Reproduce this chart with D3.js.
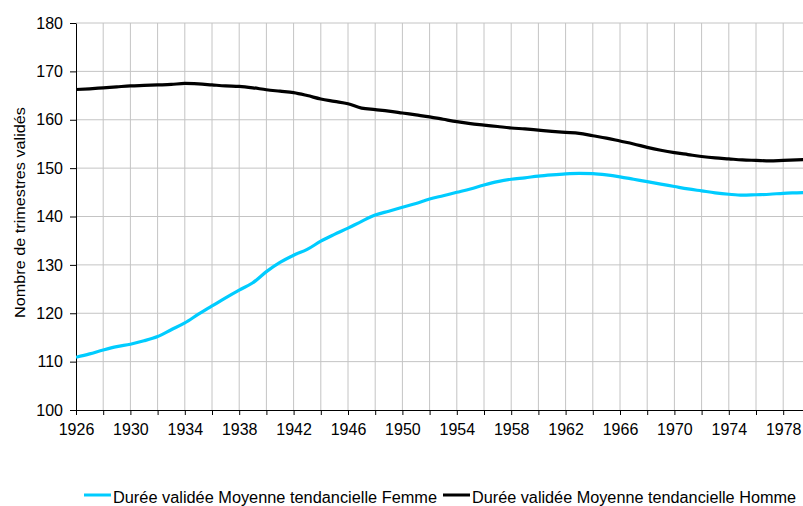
<!DOCTYPE html>
<html>
<head>
<meta charset="utf-8">
<script src="https://cdn.jsdelivr.net/npm/d3@7"></script>
<style>
  body { margin: 0; background: #fff; }
  svg text { font-family: Arial, "Liberation Sans", sans-serif; fill: #000; }
</style>
</head>
<body>
<div id="chart"></div>
<script>
// years shown on the chart
var years = d3.range(1926, 1981);

// Durée validée Moyenne tendancielle Femme
var femme = [110.9, 111.6, 112.4, 113.1, 113.6, 114.3, 115.2, 116.6, 118.0, 119.8,
             121.5, 123.2, 124.8, 126.3, 128.6, 130.5, 132.0, 133.2, 134.9, 136.3,
             137.6, 139.0, 140.3, 141.1, 141.9, 142.7, 143.6, 144.3, 145.0, 145.7,
             146.5, 147.2, 147.7, 148.0, 148.35, 148.6, 148.8, 148.9, 148.85, 148.6,
             148.2, 147.7, 147.2, 146.7, 146.2, 145.7, 145.3, 144.9, 144.6, 144.4,
             144.5, 144.6, 144.8, 144.9, 145.0];

// Durée validée Moyenne tendancielle Homme
var homme = [166.25, 166.4, 166.6, 166.8, 167.0, 167.1, 167.2, 167.3, 167.5, 167.4,
             167.2, 167.0, 166.9, 166.6, 166.2, 165.9, 165.6, 165.0, 164.3, 163.8,
             163.3, 162.4, 162.1, 161.8, 161.4, 161.0, 160.6, 160.1, 159.6, 159.2,
             158.9, 158.6, 158.3, 158.1, 157.85, 157.6, 157.4, 157.2, 156.7, 156.2,
             155.6, 155.0, 154.3, 153.7, 153.2, 152.8, 152.4, 152.1, 151.9, 151.7,
             151.6, 151.5, 151.6, 151.7, 151.8];

var yTicks = [100, 110, 120, 130, 140, 150, 160, 170, 180];
var xLabelYears = d3.range(1926, 1981, 4);
var xTickYears = d3.range(1926, 1981, 2);

var seriesNames = ["Durée validée Moyenne tendancielle Femme", "Durée validée Moyenne tendancielle Homme"];
var seriesColors = ["#00ccff", "#000000"];

var width = 803, height = 506;
var margin = {top: 23, left: 76};

var svg = d3.select("#chart").append("svg")
    .attr("width", width)
    .attr("height", height);

var xScale = d3.scaleLinear()
    .domain([1926, 1980])
    .range([margin.left, margin.left + 54 * 13.6]);

var yScale = d3.scaleLinear()
    .domain([100, 180])
    .range([410, margin.top]);

svg.append("defs").append("clipPath").attr("id", "plot")
    .append("rect")
    .attr("x", margin.left).attr("y", 0)
    .attr("width", width - margin.left).attr("height", 412);

// gridlines
var grid = svg.append("g");
grid.selectAll(".vg")
    .data(xTickYears.filter(d => d > 1926))
    .join("line")
    .attr("x1", d => xScale(d)).attr("x2", d => xScale(d))
    .attr("y1", yScale(180)).attr("y2", yScale(100))
    .attr("stroke", "#c4c4c4").attr("stroke-width", 1);
grid.selectAll(".hg")
    .data(yTicks.filter(d => d > 100))
    .join("line")
    .attr("x1", margin.left).attr("x2", width)
    .attr("y1", d => yScale(d)).attr("y2", d => yScale(d))
    .attr("stroke", "#c4c4c4").attr("stroke-width", 1);

// x axis
var xAxis = svg.append("g")
    .attr("transform", "translate(0," + yScale(100) + ")")
    .call(d3.axisBottom(xScale)
        .tickValues(xTickYears)
        .tickSize(5)
        .tickFormat(d => xLabelYears.includes(d) ? d : ""));
xAxis.select(".domain").attr("d", "M" + margin.left + ",0.5H" + width).attr("stroke", "#000");
xAxis.selectAll(".tick line").attr("stroke", "#000");
xAxis.selectAll("text")
    .attr("y", 14)
    .style("font-size", "16px");

// y axis
var yAxis = svg.append("g")
    .attr("transform", "translate(" + margin.left + ",0)")
    .call(d3.axisLeft(yScale).tickValues(yTicks).tickSize(6).tickSizeOuter(0));
yAxis.select(".domain").attr("stroke", "#000");
yAxis.selectAll(".tick line").attr("stroke", "#000");
yAxis.selectAll("text")
    .attr("x", -13)
    .style("font-size", "16px");

// y axis label
svg.append("text")
    .attr("transform", "rotate(-90)")
    .attr("x", -212.5)
    .attr("y", 25)
    .attr("text-anchor", "middle")
    .attr("textLength", 211)
    .attr("lengthAdjust", "spacingAndGlyphs")
    .style("font-size", "15px")
    .text("Nombre de trimestres validés");

// lines
var line = d3.line()
    .x((d, i) => xScale(years[i]))
    .y(d => yScale(d))
    .curve(d3.curveMonotoneX);

var lines = svg.append("g").attr("clip-path", "url(#plot)");
[femme, homme].forEach(function(s, i) {
    lines.append("path")
        .datum(s)
        .attr("fill", "none")
        .attr("stroke", seriesColors[i])
        .attr("stroke-width", 3.2)
        .attr("d", line);
});

// legend
var legend = svg.append("g").attr("transform", "translate(0,495)");
var legX = [84, 443];
seriesNames.forEach(function(name, i) {
    legend.append("line")
        .attr("x1", legX[i]).attr("x2", legX[i] + 27)
        .attr("y1", 0).attr("y2", 0)
        .attr("stroke", seriesColors[i])
        .attr("stroke-width", 3);
    legend.append("text")
        .attr("x", legX[i] + 29)
        .attr("y", 8)
        .attr("textLength", 324)
        .attr("lengthAdjust", "spacingAndGlyphs")
        .style("font-size", "16px")
        .text(name);
});
</script>
</body>
</html>
